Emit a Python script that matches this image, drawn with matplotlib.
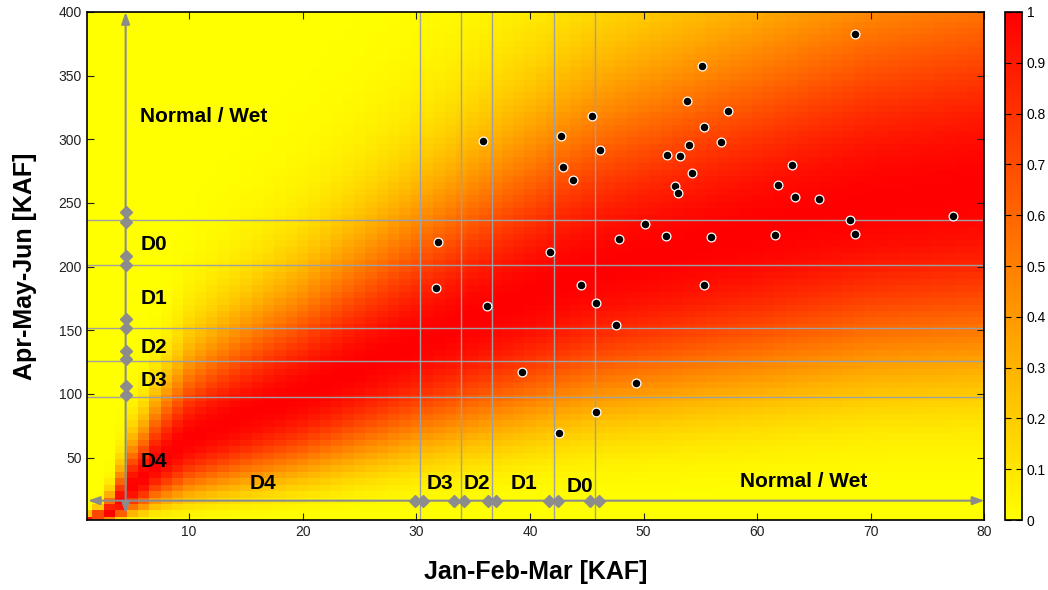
import numpy as np
import matplotlib
matplotlib.use("Agg")
import matplotlib.pyplot as plt

plt.rcParams['font.family'] = ['Liberation Sans', 'DejaVu Sans']

# observed seasonal volumes [KAF]
jfm = [31.9, 35.9, 41.8, 42.7, 42.9, 43.8, 45.5, 46.2, 47.8, 50.1, 52.0, 52.1,
       52.8, 53.0, 53.2, 53.8, 54.0, 54.3, 55.1, 55.3, 55.9, 56.8, 57.4, 61.6,
       61.8, 63.1, 63.3, 65.4, 68.2, 68.6, 68.6, 77.2, 31.7, 36.2, 39.3, 44.5,
       45.8, 45.8, 47.6, 49.3, 55.3, 42.6]
amj = [219.1, 298.9, 211.6, 302.4, 278.0, 268.3, 318.3, 291.9, 221.9, 233.7,
       224.2, 287.7, 263.1, 258.1, 287.2, 330.4, 295.3, 273.8, 357.8, 309.9,
       223.0, 297.9, 322.3, 225.2, 264.1, 279.9, 254.9, 253.2, 236.4, 225.7,
       382.5, 239.8, 183.0, 169.1, 117.3, 185.4, 171.8, 85.6, 153.9, 108.9,
       185.4, 69.5]

# conditional probability ridge of AMJ given JFM
ridge_x = [1, 2, 3, 4, 5, 6, 7, 10, 20, 30, 45, 60, 70, 80]
ridge_mode = [1.5, 3, 7, 16, 28, 35, 45, 65, 100, 140, 195, 228, 250, 262]
ridge_spread = [0.7, 0.9, 1.3, 1.6, 1.8, 1.9, 2.0, 2.3, 2.6, 2.8, 3.1, 3.3, 3.4, 3.5]

# drought thresholds
x_thresh = [30.35, 33.9, 36.7, 42.1, 45.7]
y_thresh = [236.7, 201.3, 151.6, 126.2, 97.4]
x_diamonds = [29.9, 30.6, 33.3, 34.2, 36.3, 37.0, 41.7, 42.5, 45.3, 46.1]
y_diamonds = [242.7, 235.3, 208.4, 201.3, 158.7, 151.6, 134.0, 127.3, 106.3, 99.0]
x_labels = ['D4', 'D3', 'D2', 'D1', 'D0', 'Normal / Wet']
x_label_pos = [(16.5, 29.9), (32.05, 29.3), (35.3, 29.3), (39.5, 29.3), (44.4, 27.2), (64.1, 31.2)]
y_labels = ['Normal / Wet', 'D0', 'D1', 'D2', 'D3', 'D4']
y_label_pos = [(5.7, 317.8), (5.7, 217.0), (5.7, 175.2), (5.7, 136.7), (5.7, 110.5), (5.7, 46.9)]

# grid of the surface
gx = np.arange(1, 81)
gy = np.linspace(1, 400, 80)
mode = np.exp(np.interp(np.log(gx), np.log(ridge_x), np.log(ridge_mode)))
sig = np.interp(np.log(gx), np.log(ridge_x), ridge_spread)
X, Y = np.meshgrid(gx, gy)
Z = np.exp(-0.5 * ((np.sqrt(Y) - np.sqrt(mode[None, :])) / sig[None, :]) ** 2)

fig = plt.figure(figsize=(10.48, 5.9), dpi=100)
ax = fig.add_axes([0.0828, 0.1186, 0.8566, 0.8611])
mesh = ax.pcolormesh(gx, gy, Z, cmap='autumn_r', vmin=0, vmax=1, shading='nearest')

grey = '#8c8c8c'
for xv in x_thresh:
    ax.axvline(xv, color='#a0a0a0', lw=1, zorder=2)
for yv in y_thresh:
    ax.axhline(yv, color='#a0a0a0', lw=1, zorder=2)

# category arrows
arr = dict(arrowstyle='<|-|>,head_length=0.7,head_width=0.25', color=grey, lw=1.5,
           shrinkA=0, shrinkB=0)
ax.annotate('', xy=(80, 16.2), xytext=(1.1, 16.2), arrowprops=arr, zorder=3)
ax.annotate('', xy=(4.42, 400), xytext=(4.42, 6), arrowprops=arr, zorder=3)
ax.plot(x_diamonds, [16.2] * len(x_diamonds), 'D', color=grey, ms=6, zorder=4)
ax.plot([4.42] * len(y_diamonds), y_diamonds, 'D', color=grey, ms=6, zorder=4)

for t, (px, py) in zip(x_labels, x_label_pos):
    ax.text(px, py, t, ha='center', va='center', fontsize=15, fontweight='bold', zorder=5)
for t, (px, py) in zip(y_labels, y_label_pos):
    ax.text(px, py, t, ha='left', va='center', fontsize=15, fontweight='bold', zorder=5)

ax.scatter(jfm, amj, s=40, c='black', edgecolors='white', linewidths=0.9, zorder=6)

ax.set_xlim(1, 80)
ax.set_ylim(1, 400)
ax.set_xticks(range(10, 81, 10))
ax.set_yticks(range(50, 401, 50))
ax.tick_params(direction='in', top=True, right=True, length=5, labelsize=10, colors='#222222')
ax.set_xlabel('Jan-Feb-Mar [KAF]', fontsize=18, fontweight='bold')
ax.set_ylabel('Apr-May-Jun [KAF]', fontsize=18, fontweight='bold')
ax.xaxis.set_label_coords(0.5, -0.078)
ax.yaxis.set_label_coords(-0.055, 0.5)
for sp in ax.spines.values():
    sp.set_linewidth(1.2)

cax = fig.add_axes([0.959, 0.1186, 0.0162, 0.8611])
cb = fig.colorbar(mesh, cax=cax)
cb.set_ticks(np.arange(0, 1.01, 0.1))
cb.set_ticklabels(['0', '0.1', '0.2', '0.3', '0.4', '0.5', '0.6', '0.7', '0.8', '0.9', '1'])
cax.tick_params(direction='in', left=True, right=True, length=4, labelsize=10)
cb.outline.set_linewidth(1.2)

fig.savefig('out.png', dpi=100)
